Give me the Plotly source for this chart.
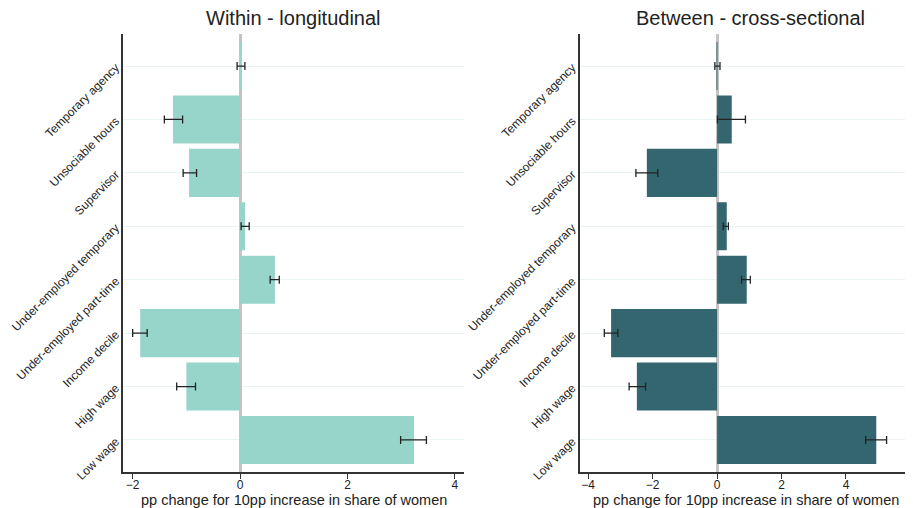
import plotly.graph_objects as go

categories = ["Low wage", "High wage", "Income decile", "Under-employed part-time",
              "Under-employed temporary", "Supervisor", "Unsociable hours", "Temporary agency"]

# Within - longitudinal
within_vals = [3.24, -1.00, -1.86, 0.65, 0.093, -0.95, -1.25, 0.015]
within_lo = [2.99, -1.18, -2.00, 0.56, 0.019, -1.06, -1.41, -0.055]
within_hi = [3.47, -0.83, -1.73, 0.73, 0.17, -0.81, -1.07, 0.09]

# Between - cross-sectional
between_vals = [4.94, -2.49, -3.29, 0.92, 0.30, -2.18, 0.455, 0.005]
between_lo = [4.61, -2.73, -3.50, 0.76, 0.19, -2.52, 0.01, -0.07]
between_hi = [5.26, -2.22, -3.08, 1.03, 0.35, -1.84, 0.88, 0.09]

left_ticks = [-2, 0, 2, 4]
right_ticks = [-4, -2, 0, 2, 4, 6]

titles = ["Within - longitudinal", "Between - cross-sectional"]
xtitle = "pp change for 10pp increase in share of women"

FONT = "Liberation Sans, Arial, sans-serif"
TXT = "#222222"

# page body has an 8px margin: figure is drawn at (8, 8)
OFF = 8
W, H = 913 - OFF, 508 - OFF

def px(X):
    return (X - OFF) / W

def py(Y):
    return 1 - (Y - OFF) / H

fig = go.Figure()

def add_bar(vals, lo, hi, color, xa, ya):
    fig.add_trace(go.Bar(
        y=categories, x=vals, orientation="h", width=0.9,
        marker=dict(color=color, line=dict(width=0)),
        error_x=dict(type="data", symmetric=False,
                     array=[h - v for h, v in zip(hi, vals)],
                     arrayminus=[v - l for v, l in zip(vals, lo)],
                     color="#222222", thickness=1.3, width=4),
        xaxis=xa, yaxis=ya, showlegend=False, hoverinfo="x+y"))

add_bar(within_vals, within_lo, within_hi, "#97d5ca", "x", "y")
add_bar(between_vals, between_lo, between_hi, "#34666f", "x2", "y2")

ydom = [py(472), py(34)]
axis_common = dict(showline=True, linecolor="#333333", linewidth=1.5,
                   ticks="outside", ticklen=5, tickcolor="#333333",
                   tickfont=dict(size=12, color=TXT, family=FONT),
                   showgrid=False, zeroline=True, zerolinecolor="#c4c4c4",
                   zerolinewidth=2.5, layer="below traces", automargin=False)
yaxis_common = dict(type="category", categoryorder="array", categoryarray=categories,
                    range=[-0.6, 7.6], showline=True, linecolor="#333333", linewidth=1.5,
                    ticks="", tickangle=-45, tickfont=dict(size=12, color=TXT, family=FONT),
                    showgrid=True, gridcolor="#eaf3f3", gridwidth=1, domain=ydom,
                    automargin=False)

fig.update_layout(
    width=W, height=H,
    margin=dict(l=0, r=0, t=0, b=0),
    paper_bgcolor="white", plot_bgcolor="white",
    font=dict(family=FONT, color=TXT),
    bargap=0.1,
    xaxis=dict(domain=[px(123), px(464)], range=[-2.18, 4.17],
               tickvals=left_ticks, anchor="y", **axis_common),
    yaxis=dict(anchor="x", **yaxis_common),
    xaxis2=dict(domain=[px(579.5), 1.0], range=[-4.27, 6.08],
                tickvals=right_ticks, anchor="y2", **axis_common),
    yaxis2=dict(anchor="x2", **yaxis_common),
)

try:
    fig.update_xaxes(ticklabelstandoff=-4)
    fig.update_yaxes(ticklabelstandoff=3)
except Exception:
    pass

for t, cx in zip(titles, [293, 750]):
    fig.add_annotation(text=t, x=px(cx), y=py(18), xref="paper", yref="paper",
                       showarrow=False, font=dict(size=20, color=TXT, family=FONT),
                       xanchor="center", yanchor="middle")

for cx in [294, 746]:
    fig.add_annotation(text=xtitle, x=px(cx), y=py(500), xref="paper", yref="paper",
                       showarrow=False, font=dict(size=14.5, color=TXT, family=FONT),
                       xanchor="center", yanchor="middle")

fig.write_html("out.html")
